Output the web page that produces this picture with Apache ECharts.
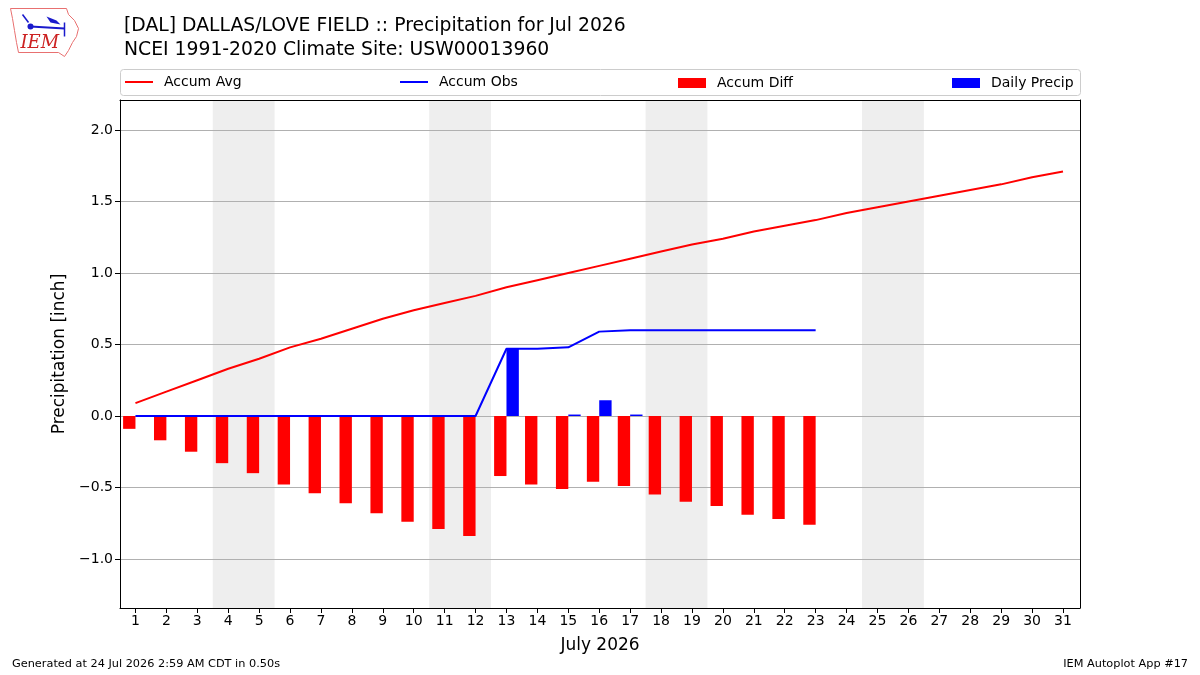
<!DOCTYPE html>
<html>
<head>
<meta charset="utf-8">
<script src="https://cdn.jsdelivr.net/npm/echarts@6/dist/echarts.min.js"></script>
<style>
  html, body { margin: 0; padding: 0; background: #fff; }
  #chart { width: 1200px; height: 675px; }
</style>
</head>
<body>
<div id="chart"></div>
<script>
// days of July 2026
const days = Array.from({ length: 31 }, (_, i) => i + 1);
const accumAvg = [0.09, 0.17, 0.25, 0.33, 0.40, 0.48, 0.54, 0.61, 0.68, 0.74, 0.79, 0.84, 0.90, 0.95, 1.00, 1.05,
  1.10, 1.15, 1.20, 1.24, 1.29, 1.33, 1.37, 1.42, 1.46, 1.50, 1.54, 1.58, 1.62, 1.67, 1.71];
const accumObs = [0, 0, 0, 0, 0, 0, 0, 0, 0, 0, 0, 0, 0.47, 0.47, 0.48, 0.59, 0.60, 0.60, 0.60, 0.60, 0.60, 0.60, 0.60];
const accumDiff = [-0.09, -0.17, -0.25, -0.33, -0.40, -0.48, -0.54, -0.61, -0.68, -0.74, -0.79, -0.84, -0.42, -0.48,
  -0.51, -0.46, -0.49, -0.55, -0.60, -0.63, -0.69, -0.72, -0.76];
const dailyPrecip = [0, 0, 0, 0, 0, 0, 0, 0, 0, 0, 0, 0, 0.47, 0, 0.01, 0.11, 0.01, 0, 0, 0, 0, 0, 0];
const weekends = [[3.5, 5.5], [10.5, 12.5], [17.5, 19.5], [24.5, 26.5]];
const yTicks = [-1, -0.5, 0, 0.5, 1, 1.5, 2];

const FONT = 'DejaVu Sans';
const X_MIN = 0.5, X_MAX = 31.55, Y_MIN = -1.343, Y_MAX = 2.21;
const pair = (arr) => arr.map((v, i) => [days[i], v]);

function barItem(offset, color) {
  return function (params, api) {
    const d = api.value(0), v = api.value(1);
    if (!v) return null;
    const a = api.coord([d + offset, 0]);
    const b = api.coord([d + offset + 0.4, v]);
    return {
      type: 'rect',
      shape: {
        x: Math.min(a[0], b[0]), y: Math.min(a[1], b[1]),
        width: Math.abs(b[0] - a[0]), height: Math.abs(b[1] - a[1])
      },
      style: { fill: color }
    };
  };
}

const legendBase = {
  top: 76, padding: 0, itemWidth: 28, itemHeight: 10, itemGap: 0,
  textStyle: { fontFamily: FONT, fontSize: 14, color: '#000', padding: [0, 0, 0, 6] }
};

// spine-only axes (top and right)
const spine = {
  type: 'value', axisLine: { show: true, onZero: false, lineStyle: { color: '#000' } },
  axisTick: { show: false }, axisLabel: { show: false }, splitLine: { show: false }, z: 10
};

const chart = echarts.init(document.getElementById('chart'));
chart.setOption({
  animation: false,
  textStyle: { fontFamily: FONT },
  title: {
    text: '[DAL] DALLAS/LOVE FIELD :: Precipitation for Jul 2026\nNCEI 1991-2020 Climate Site: USW00013960',
    left: 119, top: 9,
    textStyle: { fontFamily: FONT, fontSize: 18.8, fontWeight: 'normal', color: '#000', lineHeight: 24 }
  },
  legend: [
    { ...legendBase, left: 125, data: [{ name: 'Accum Avg', icon: 'rect', itemStyle: { color: 'red' } }], itemHeight: 2, top: 75 },
    { ...legendBase, left: 400, data: [{ name: 'Accum Obs', icon: 'rect', itemStyle: { color: 'blue' } }], itemHeight: 2, top: 75 },
    { ...legendBase, left: 678, data: [{ name: 'Accum Diff', icon: 'rect' }] },
    { ...legendBase, left: 952, data: [{ name: 'Daily Precip', icon: 'rect' }] }
  ],
  graphic: [
    {
      type: 'rect', left: 120, top: 69, z: -1,
      shape: { width: 960, height: 26, r: 3 },
      style: { fill: '#fff', stroke: '#cccccc', lineWidth: 1 }
    },
    {
      type: 'group', left: 8, top: 6,
      children: [
        {
          type: 'polyline',
          shape: { points: [[2, 2], [58, 2], [60, 8], [66, 14], [70, 22], [68, 30], [64, 36], [60, 44], [56, 50], [50, 46], [10, 46], [8, 36], [6, 24], [4, 12], [2, 2]] },
          style: { stroke: '#e87070', fill: 'none', lineWidth: 1 }
        },
        { type: 'line', shape: { x1: 22, y1: 20, x2: 56, y2: 22 }, style: { stroke: '#1a1acc', lineWidth: 2 } },
        { type: 'circle', shape: { cx: 22, cy: 20, r: 3 }, style: { fill: '#1a1acc' } },
        { type: 'line', shape: { x1: 20, y1: 16, x2: 14, y2: 8 }, style: { stroke: '#1a1acc', lineWidth: 1.5 } },
        { type: 'polygon', shape: { points: [[38, 10], [48, 14], [52, 18], [42, 16]] }, style: { fill: '#1a1acc' } },
        { type: 'line', shape: { x1: 56, y1: 16, x2: 56, y2: 30 }, style: { stroke: '#1a1acc', lineWidth: 1.5 } },
        {
          type: 'text', x: 12, y: 28,
          style: { text: 'IEM', fill: '#cc2222', font: 'italic 18px "DejaVu Serif", serif' }
        }
      ]
    },
    {
      type: 'text', left: 12, top: 659,
      style: { text: 'Generated at 24 Jul 2026 2:59 AM CDT in 0.50s', fill: '#000', font: '11.3px "DejaVu Sans"' }
    },
    {
      type: 'text', right: 12, top: 659,
      style: { text: 'IEM Autoplot App #17', fill: '#000', font: '11.3px "DejaVu Sans"' }
    }
  ],
  grid: { left: 120, right: 120, top: 100, bottom: 67 },
  xAxis: [
    {
      type: 'value', min: X_MIN, max: X_MAX, z: 10,
      name: 'July 2026', nameLocation: 'middle', nameGap: 29,
      nameTextStyle: { fontFamily: FONT, fontSize: 17, color: '#000' },
      axisLine: { show: true, onZero: false, lineStyle: { color: '#000' } },
      axisTick: { show: true, customValues: days, length: 5, lineStyle: { color: '#000' } },
      axisLabel: { customValues: days, fontSize: 14, color: '#000', margin: 6 },
      splitLine: { show: false }
    },
    { ...spine, position: 'top', min: X_MIN, max: X_MAX }
  ],
  yAxis: [
    {
      type: 'value', min: Y_MIN, max: Y_MAX, z: 10,
      name: 'Precipitation [inch]', nameLocation: 'middle', nameGap: 50,
      nameTextStyle: { fontFamily: FONT, fontSize: 17, color: '#000' },
      axisLine: { show: true, onZero: false, lineStyle: { color: '#000' } },
      axisTick: { show: true, customValues: yTicks, length: 5, lineStyle: { color: '#000' } },
      axisLabel: {
        customValues: yTicks, fontSize: 14, color: '#000', margin: 7,
        formatter: (v) => v.toFixed(1).replace('-', '\u2212')
      },
      splitLine: { show: false }
    },
    { ...spine, position: 'right', min: Y_MIN, max: Y_MAX }
  ],
  series: [
    {
      name: 'bg', type: 'line', data: [], z: 0, silent: true,
      markArea: {
        silent: true, z: 0,
        itemStyle: { color: '#eeeeee' },
        data: weekends.map(w => [{ xAxis: w[0] }, { xAxis: w[1] }])
      },
      markLine: {
        silent: true, z: 1, symbol: 'none', label: { show: false },
        lineStyle: { color: '#b0b0b0', width: 1, type: 'solid' },
        data: yTicks.map(v => ({ yAxis: v }))
      }
    },
    {
      name: 'Accum Diff', type: 'custom', z: 3,
      itemStyle: { color: '#ff0000' },
      renderItem: barItem(-0.4, '#ff0000'),
      encode: { x: 0, y: 1 },
      data: pair(accumDiff)
    },
    {
      name: 'Daily Precip', type: 'custom', z: 3,
      itemStyle: { color: '#0000ff' },
      renderItem: barItem(0, '#0000ff'),
      encode: { x: 0, y: 1 },
      data: pair(dailyPrecip)
    },
    {
      name: 'Accum Avg', type: 'line', z: 4, symbol: 'none',
      lineStyle: { color: '#ff0000', width: 2 },
      itemStyle: { color: '#ff0000' },
      data: pair(accumAvg)
    },
    {
      name: 'Accum Obs', type: 'line', z: 4, symbol: 'none',
      lineStyle: { color: '#0000ff', width: 2 },
      itemStyle: { color: '#0000ff' },
      data: pair(accumObs)
    }
  ]
});
</script>
</body>
</html>
